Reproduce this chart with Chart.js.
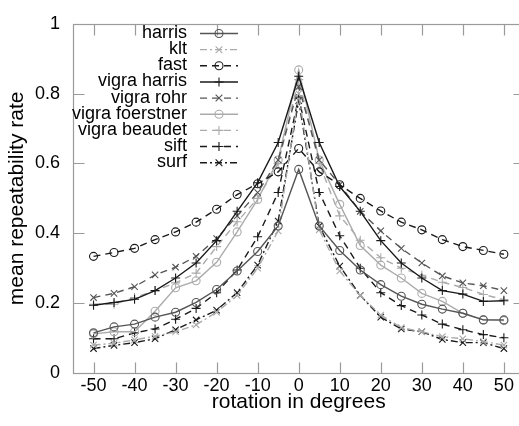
<!DOCTYPE html>
<html>
<head>
<meta charset="utf-8">
<script src="https://cdn.jsdelivr.net/npm/chart.js@4"></script>
<style>
html,body{margin:0;padding:0;overflow:hidden;background:#fff;width:519px;height:426px;}
#wrap{width:530px;height:426px;}
</style>
</head>
<body>
<div id="wrap"><canvas id="c" width="530" height="426"></canvas></div>
<script>
const degrees = [-50,-45,-40,-35,-30,-25,-20,-15,-10,-5,0,5,10,15,20,25,30,35,40,45,50];
const xTicks = [-50,-40,-30,-20,-10,0,10,20,30,40,50];
const yTicks = [0,0.2,0.4,0.6,0.8,1];

const harris        = [0.115,0.132,0.140,0.160,0.174,0.202,0.239,0.292,0.348,0.421,0.583,0.421,0.351,0.295,0.253,0.220,0.197,0.183,0.171,0.152,0.152];
const klt           = [0.080,0.085,0.095,0.105,0.118,0.138,0.174,0.222,0.300,0.407,0.800,0.410,0.292,0.222,0.166,0.130,0.118,0.104,0.098,0.090,0.080];
const fast          = [0.334,0.345,0.357,0.382,0.404,0.432,0.469,0.511,0.542,0.576,0.643,0.576,0.539,0.500,0.464,0.432,0.410,0.382,0.362,0.351,0.340];
const vigraHarris   = [0.194,0.202,0.211,0.236,0.272,0.315,0.379,0.463,0.545,0.660,0.850,0.660,0.534,0.463,0.379,0.315,0.272,0.236,0.226,0.205,0.207];
const vigraRohr     = [0.216,0.228,0.247,0.281,0.303,0.334,0.385,0.450,0.517,0.610,0.820,0.610,0.539,0.463,0.407,0.357,0.315,0.278,0.258,0.250,0.236];
const vigraFoerstner= [0.112,0.118,0.118,0.177,0.244,0.264,0.317,0.404,0.497,0.610,0.868,0.610,0.483,0.365,0.309,0.272,0.228,0.205,0.171,0.152,0.150];
const vigraBeaudet  = [0.197,0.197,0.216,0.236,0.258,0.286,0.362,0.433,0.500,0.600,0.840,0.600,0.450,0.380,0.330,0.300,0.280,0.260,0.245,0.225,0.210];
const sift          = [0.098,0.098,0.115,0.126,0.154,0.185,0.230,0.295,0.390,0.517,0.790,0.517,0.393,0.300,0.230,0.193,0.166,0.140,0.124,0.110,0.101];
const surf          = [0.070,0.079,0.087,0.098,0.124,0.152,0.180,0.230,0.309,0.435,0.780,0.421,0.306,0.222,0.160,0.126,0.118,0.096,0.087,0.087,0.070];

const BLACK = '#1a1a1a', DARK = '#555555', LIGHT = '#ababab';
const DASH = [7,5], DASHDOT = [7,3,2,3], SOLID = [];

const series = [
  {label:'harris',          data:harris,         color:DARK,  dash:SOLID,   marker:'circle'},
  {label:'klt',             data:klt,            color:LIGHT, dash:DASHDOT, marker:'crossRot'},
  {label:'fast',            data:fast,           color:BLACK, dash:DASH,    marker:'circle'},
  {label:'vigra harris',    data:vigraHarris,    color:BLACK, dash:SOLID,   marker:'cross'},
  {label:'vigra rohr',      data:vigraRohr,      color:DARK,  dash:DASH,    marker:'crossRot'},
  {label:'vigra foerstner', data:vigraFoerstner, color:LIGHT, dash:SOLID,   marker:'circle'},
  {label:'vigra beaudet',   data:vigraBeaudet,   color:LIGHT, dash:DASH,    marker:'cross'},
  {label:'sift',            data:sift,           color:BLACK, dash:DASH,    marker:'cross'},
  {label:'surf',            data:surf,           color:BLACK, dash:DASHDOT, marker:'crossRot'}
];
const markerRadius = {circle:4, cross:4.5, crossRot:4.5};

const FONT = 'Liberation Sans, Arial, Helvetica, sans-serif';

function drawMarker(ctx, type, x, y, r){
  ctx.beginPath();
  if(type==='circle'){ ctx.arc(x,y,r,0,Math.PI*2); }
  else if(type==='cross'){ ctx.moveTo(x-r,y); ctx.lineTo(x+r,y); ctx.moveTo(x,y-r); ctx.lineTo(x,y+r); }
  else { const d=r*0.75; ctx.moveTo(x-d,y-d); ctx.lineTo(x+d,y+d); ctx.moveTo(x-d,y+d); ctx.lineTo(x+d,y-d); }
  ctx.stroke();
}

const framePlugin = {
  id:'frame',
  beforeDatasetsDraw(chart){
    const {ctx, chartArea:{left,right,top,bottom}, scales:{x,y}} = chart;
    ctx.save();
    ctx.strokeStyle='#9a9a9a'; ctx.lineWidth=1.2; ctx.setLineDash([]);
    const L=Math.round(left)+0.5, R=Math.round(right)+0.5, T=Math.round(top)+0.5, B=Math.round(bottom)+0.5;
    ctx.strokeRect(L,T,R-L,B-T);
    const tl=11;
    ctx.beginPath();
    xTicks.forEach(v=>{ const px=Math.round(x.getPixelForValue(v))+0.5; ctx.moveTo(px,B); ctx.lineTo(px,B-tl); ctx.moveTo(px,T); ctx.lineTo(px,T+tl); });
    yTicks.forEach(v=>{ const py=Math.round(y.getPixelForValue(v))+0.5; ctx.moveTo(L,py); ctx.lineTo(L+tl,py); ctx.moveTo(R,py); ctx.lineTo(R-tl,py); });
    ctx.stroke();
    ctx.restore();
  },
  afterDatasetsDraw(chart){
    const ctx = chart.ctx;
    ctx.save();
    ctx.font = '18px ' + FONT;
    ctx.textAlign='right'; ctx.textBaseline='middle';
    const y0=33, dy=16.15, textX=187, x1=200, x2=238, xm=219;
    series.forEach((s,i)=>{
      const yy = y0 + i*dy;
      ctx.fillStyle='#000';
      ctx.fillText(s.label, textX, yy);
      ctx.strokeStyle=s.color; ctx.lineWidth=1.4;
      ctx.setLineDash(s.dash);
      ctx.beginPath(); ctx.moveTo(x1,yy+0.5); ctx.lineTo(x2,yy+0.5); ctx.stroke();
      ctx.setLineDash([]);
      ctx.lineWidth=1.1;
      drawMarker(ctx, s.marker, xm, yy+0.5, markerRadius[s.marker]);
    });
    ctx.restore();
  }
};

const datasets = series.map(s=>({
  label:s.label,
  data:degrees.map((d,i)=>({x:d,y:s.data[i]})),
  borderColor:s.color,
  borderWidth:1.4,
  borderDash:s.dash,
  tension:0,
  fill:false,
  pointStyle:s.marker,
  pointRadius:markerRadius[s.marker],
  pointBorderColor:s.color,
  pointBackgroundColor:'rgba(0,0,0,0)',
  pointBorderWidth:1.1
}));

new Chart(document.getElementById('c'), {
  type:'line',
  data:{datasets},
  plugins:[framePlugin],
  options:{
    responsive:false,
    animation:false,
    devicePixelRatio:1,
    layout:{padding:{left:0,top:17,right:5.5,bottom:0}},
    plugins:{legend:{display:false}, tooltip:{enabled:false}},
    scales:{
      x:{
        type:'linear', min:-55, max:55,
        afterBuildTicks:(s)=>{ s.ticks = xTicks.map(v=>({value:v})); },
        afterFit:(s)=>{ s.height = 53; },
        grid:{display:false, drawTicks:false},
        border:{display:false},
        ticks:{font:{family:FONT,size:18}, color:'#000', padding:2, autoSkip:false, maxRotation:0, callback:(v)=>String(v)},
        title:{display:true, text:'rotation in degrees', font:{family:FONT,size:21}, color:'#000', padding:{top:0,bottom:11}}
      },
      y:{
        type:'linear', min:0, max:1,
        afterBuildTicks:(s)=>{ s.ticks = yTicks.map(v=>({value:v})); },
        afterFit:(s)=>{ s.width = 73; },
        grid:{display:false, drawTicks:false},
        border:{display:false},
        ticks:{font:{family:FONT,size:18}, color:'#000', padding:13, callback:(v)=>String(Math.round(v*10)/10)},
        title:{display:true, text:'mean repeatability rate', font:{family:FONT,size:21}, color:'#000', padding:{top:5,bottom:0}}
      }
    }
  }
});
</script>
</body>
</html>
